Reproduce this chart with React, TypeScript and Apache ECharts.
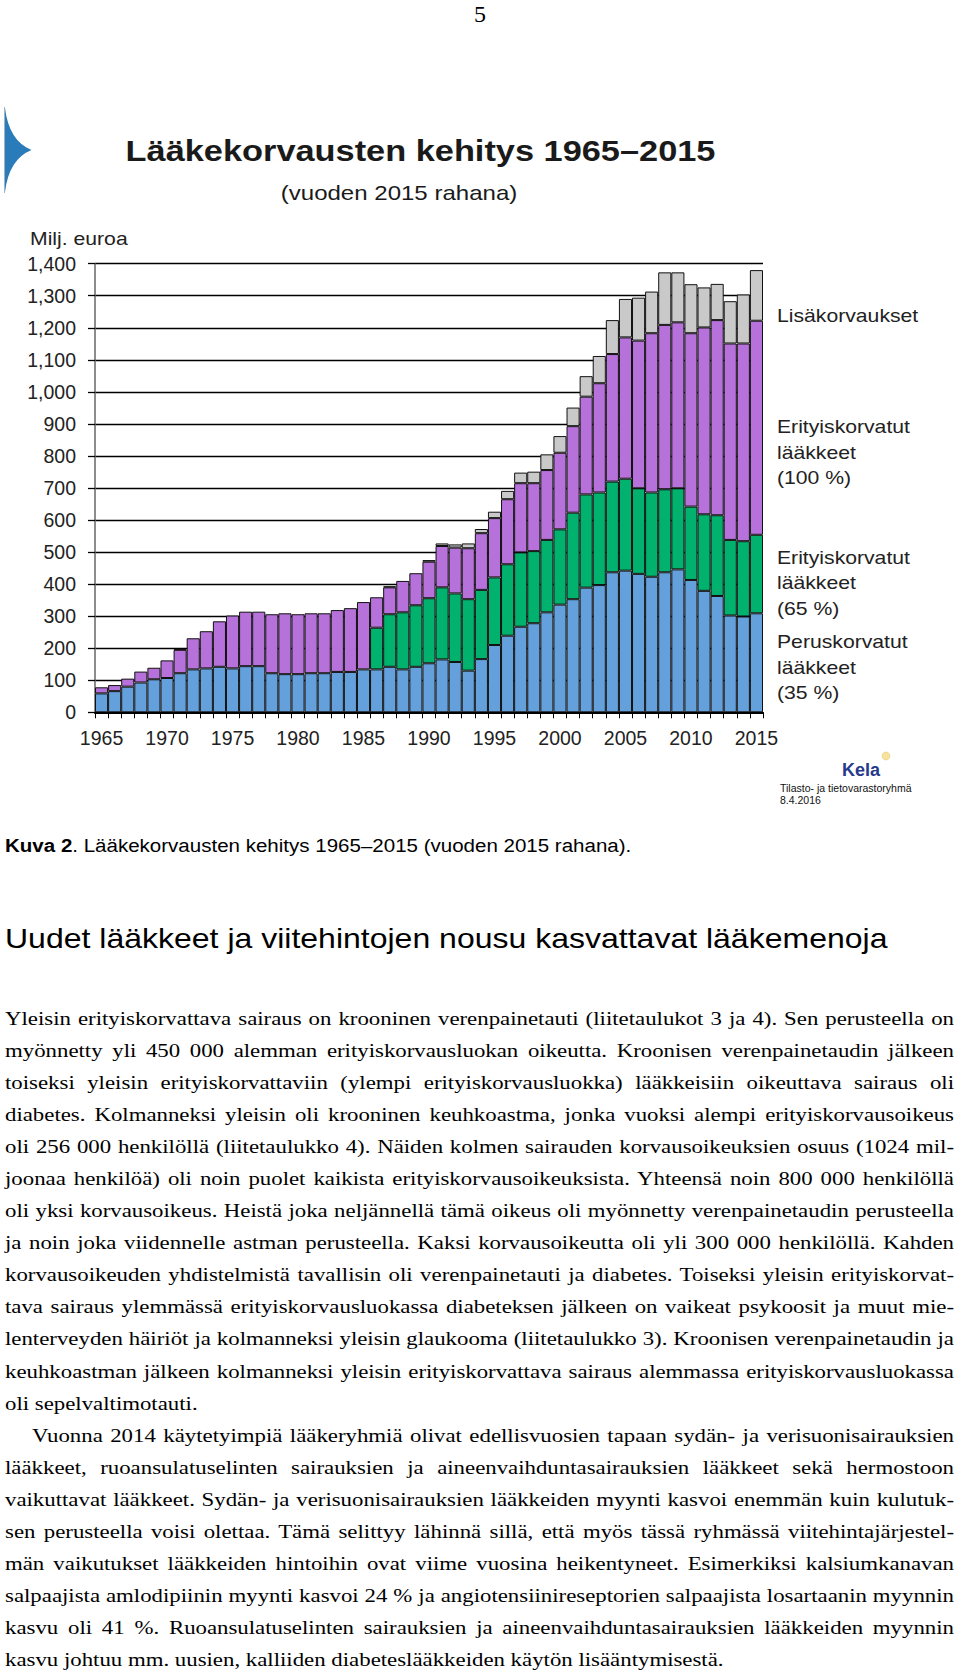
import React, { useEffect, useRef } from "react";
import * as echarts from "echarts";

const years = [
  "1965", "1966", "1967", "1968", "1969", "1970", "1971", "1972", "1973", "1974",
  "1975", "1976", "1977", "1978", "1979", "1980", "1981", "1982", "1983", "1984",
  "1985", "1986", "1987", "1988", "1989", "1990", "1991", "1992", "1993", "1994",
  "1995", "1996", "1997", "1998", "1999", "2000", "2001", "2002", "2003", "2004",
  "2005", "2006", "2007", "2008", "2009", "2010", "2011", "2012", "2013", "2014", "2015",
];

// Peruskorvatut lääkkeet (35 %)
const peruskorvatut = [
  59, 66, 80, 93, 103, 107, 122, 134, 137, 142,
  137, 144, 144, 122, 119, 119, 122, 122, 126, 126,
  134, 134, 142, 134, 142, 153, 165, 157, 130, 166,
  210, 239, 267, 278, 312, 336, 353, 389, 397, 437,
  442, 432, 423, 437, 446, 413, 379, 363, 302, 299, 309,
];

// Erityiskorvatut lääkkeet (65 %)
const erityis65 = [
  null, null, null, null, null, null, null, null, null, null,
  null, null, null, null, null, null, null, null, null, null,
  null, 130, 164, 178, 192, 203, 225, 214, 223, 216,
  211, 223, 232, 225, 226, 235, 270, 291, 289, 283,
  287, 267, 263, 259, 253, 229, 239, 252, 236, 235, 245,
];

// Erityiskorvatut lääkkeet (100 %)
const erityis100 = [
  19, 19, 25, 34, 36, 55, 73, 97, 116, 142,
  165, 170, 170, 184, 190, 187, 187, 187, 193, 199,
  210, 95, 84, 98, 100, 114, 129, 143, 159, 177,
  185, 203, 216, 212, 218, 239, 270, 305, 341, 398,
  441, 461, 497, 513, 518, 541, 583, 609, 613, 617, 668,
];

// Lisäkorvaukset
const lisakorvaukset = [
  null, null, null, null, null, null, 3, null, null, null,
  null, null, null, null, null, null, null, null, null, null,
  null, null, 3, null, null, 5, 8, 10, 15, 13,
  20, 26, 33, 36, 49, 52, 58, 64, 85, 106,
  120, 134, 130, 164, 156, 153, 125, 113, 132, 153, 158,
];

const yMin = 0;
const yMax = 1400;
const yStep = 100;

const seriesNames = [
  "Peruskorvatut lääkkeet (35 %)",
  "Erityiskorvatut lääkkeet (65 %)",
  "Erityiskorvatut lääkkeet (100 %)",
  "Lisäkorvaukset",
];
const seriesColors = ["#64a0dc", "#00b26e", "#b672da", "#c9c9c9"];

const bodyLines: { t: string; last?: boolean; indent?: boolean }[] = [
  { t: "Yleisin erityiskorvattava sairaus on krooninen verenpainetauti (liitetaulukot 3 ja 4). Sen perusteella on" },
  { t: "myönnetty yli 450 000 alemman erityiskorvausluokan oikeutta. Kroonisen verenpainetaudin jälkeen" },
  { t: "toiseksi yleisin erityiskorvattaviin (ylempi erityiskorvausluokka) lääkkeisiin oikeuttava sairaus oli" },
  { t: "diabetes. Kolmanneksi yleisin oli krooninen keuhkoastma, jonka vuoksi alempi erityiskorvausoikeus" },
  { t: "oli 256 000 henkilöllä (liitetaulukko 4). Näiden kolmen sairauden korvausoikeuksien osuus (1024 mil-" },
  { t: "joonaa henkilöä) oli noin puolet kaikista erityiskorvausoikeuksista. Yhteensä noin 800 000 henkilöllä" },
  { t: "oli yksi korvausoikeus. Heistä joka neljännellä tämä oikeus oli myönnetty verenpainetaudin perusteella" },
  { t: "ja noin joka viidennelle astman perusteella. Kaksi korvausoikeutta oli yli 300 000 henkilöllä. Kahden" },
  { t: "korvausoikeuden yhdistelmistä tavallisin oli verenpainetauti ja diabetes. Toiseksi yleisin erityiskorvat-" },
  { t: "tava sairaus ylemmässä erityiskorvausluokassa diabeteksen jälkeen on vaikeat psykoosit ja muut mie-" },
  { t: "lenterveyden häiriöt ja kolmanneksi yleisin glaukooma (liitetaulukko 3). Kroonisen verenpainetaudin ja" },
  { t: "keuhkoastman jälkeen kolmanneksi yleisin erityiskorvattava sairaus alemmassa erityiskorvausluokassa" },
  { t: "oli sepelvaltimotauti.", last: true },
  { t: "Vuonna 2014 käytetyimpiä lääkeryhmiä olivat edellisvuosien tapaan sydän- ja verisuonisairauksien", indent: true },
  { t: "lääkkeet, ruoansulatuselinten sairauksien ja aineenvaihduntasairauksien lääkkeet sekä hermostoon" },
  { t: "vaikuttavat lääkkeet. Sydän- ja verisuonisairauksien lääkkeiden myynti kasvoi enemmän kuin kulutuk-" },
  { t: "sen perusteella voisi olettaa. Tämä selittyy lähinnä sillä, että myös tässä ryhmässä viitehintajärjestel-" },
  { t: "män vaikutukset lääkkeiden hintoihin ovat viime vuosina heikentyneet. Esimerkiksi kalsiumkanavan" },
  { t: "salpaajista amlodipiinin myynti kasvoi 24 % ja angiotensiinireseptorien salpaajista losartaanin myynnin" },
  { t: "kasvu oli 41 %. Ruoansulatuselinten sairauksien ja aineenvaihduntasairauksien lääkkeiden myynnin" },
  { t: "kasvu johtuu mm. uusien, kalliiden diabeteslääkkeiden käytön lisääntymisestä.", last: true },
];

echarts.graphic.registerShape(
  "logo",
  echarts.graphic.extendPath("M5,108 Q9,141 31.5,150 Q9,159 5,192 Z", {})
);

const SANS = "'Liberation Sans', Arial, sans-serif";
const SERIF = "'Liberation Serif', 'Times New Roman', serif";
const SX = 1.145;

function txt(text: string, x: number, y: number, fontSize: number, opts: any = {}) {
  const align = opts.align || "left";
  return {
    type: "text",
    x,
    y,
    scaleX: opts.scaleX ?? SX,
    silent: true,
    style: {
      text,
      fontSize,
      fontFamily: opts.fontFamily || SANS,
      fontWeight: opts.fontWeight || "normal",
      fill: opts.fill || "#222",
      align,
      textAlign: align,
      verticalAlign: "middle",
      textVerticalAlign: "middle",
    },
  };
}

function Chart() {
  const ref = useRef<HTMLDivElement>(null);
  useEffect(() => {
    if (!ref.current) return;
    const chart = echarts.init(ref.current, null, { renderer: "svg" });
    const data = [peruskorvatut, erityis65, erityis100, lisakorvaukset];
    const legendX = 777;
    const option: any = {
      animation: false,
      backgroundColor: "#fff",
      grid: {
        left: 95,
        right: 197,
        top: 263.7,
        bottom: 107.7,
        containLabel: false,
        outerBoundsMode: "none",
      },
      xAxis: {
        type: "category",
        data: years,
        boundaryGap: true,
        z: 10,
        axisLine: { show: true, lineStyle: { color: "#000", width: 2 } },
        axisTick: { show: true, interval: 0, length: 6, lineStyle: { color: "#000", width: 1 } },
        axisLabel: {
          interval: 4,
          fontSize: 19.5,
          fontFamily: SANS,
          color: "#222",
          margin: 16,
        },
      },
      yAxis: {
        type: "value",
        min: yMin,
        max: yMax,
        interval: yStep,
        axisLine: { show: true, lineStyle: { color: "#666", width: 1.5 } },
        axisTick: { show: true, length: 7, lineStyle: { color: "#000", width: 1.3 } },
        splitLine: { show: true, lineStyle: { color: "#000", width: 1.3 } },
        axisLabel: {
          formatter: (v: number) => v.toLocaleString("en-US"),
          fontSize: 19.5,
          fontFamily: SANS,
          color: "#222",
          margin: 19,
        },
      },
      series: data.map((d, i) => ({
        name: seriesNames[i],
        type: "bar",
        stack: "total",
        data: d,
        barCategoryGap: "0%",
        itemStyle: { color: seriesColors[i], borderColor: "#111", borderWidth: 1 },
      })),
      graphic: [
        {
          type: "logo",
          x: 0,
          y: 0,
          silent: true,
          style: { fill: "#2a7bb9" },
        },
        {
          type: "line",
          silent: true,
          shape: { x1: 4.5, y1: 107, x2: 4.5, y2: 193 },
          style: { stroke: "#9fb3c4", lineWidth: 1 },
        },
        txt("Lääkekorvausten kehitys 1965–2015", 420.5, 151, 30, { align: "center", fontWeight: "bold", fill: "#1a1a1a" }),
        txt("(vuoden 2015 rahana)", 399, 193, 21, { align: "center", fill: "#1a1a1a" }),
        txt("Milj. euroa", 30, 238, 18.5),
        txt("Lisäkorvaukset", legendX, 315, 18.5),
        txt("Erityiskorvatut", legendX, 426, 18.5),
        txt("lääkkeet", legendX, 452, 18.5),
        txt("(100 %)", legendX, 477, 18.5),
        txt("Erityiskorvatut", legendX, 557, 18.5),
        txt("lääkkeet", legendX, 582, 18.5),
        txt("(65 %)", legendX, 608, 18.5),
        txt("Peruskorvatut", legendX, 641, 18.5),
        txt("lääkkeet", legendX, 667, 18.5),
        txt("(35 %)", legendX, 692, 18.5),
        txt("Kela", 842, 770, 18, { fontWeight: "bold", fill: "#26398c", scaleX: 1 }),
        {
          type: "circle",
          silent: true,
          shape: { cx: 886, cy: 756, r: 4 },
          style: { fill: "#f6e3a0", stroke: "#e8c870", lineWidth: 0.6 },
        },
        txt("Tilasto- ja tietovarastoryhmä", 780, 788, 10.5, { fill: "#111", scaleX: 1 }),
        txt("8.4.2016", 780, 800, 10.5, { fill: "#111", scaleX: 1 }),
      ],
    };
    chart.setOption(option);
    return () => chart.dispose();
  }, []);
  return (
    <div
      ref={ref}
      style={{ position: "absolute", left: 0, top: 0, width: 960, height: 820 }}
    />
  );
}

export default function App() {
  const bodyScale = 1.17;
  const bodyWidth = 949 / bodyScale;
  return (
    <div
      style={{
        position: "absolute",
        left: 0,
        top: 0,
        width: 960,
        height: 1677,
        background: "#fff",
        overflow: "hidden",
      }}
    >
      <Chart />
      <div
        style={{
          position: "absolute",
          left: 0,
          top: 0,
          width: 960,
          textAlign: "center",
          fontFamily: SERIF,
          fontSize: 24,
          lineHeight: "28px",
          color: "#000",
        }}
      >
        5
      </div>
      <div
        style={{
          position: "absolute",
          left: 5,
          top: 834,
          fontFamily: SANS,
          fontSize: 18,
          lineHeight: "24px",
          whiteSpace: "nowrap",
          color: "#000",
          transform: `scaleX(${1.14})`,
          transformOrigin: "0 0",
        }}
      >
        <b>Kuva 2</b>. Lääkekorvausten kehitys 1965–2015 (vuoden 2015 rahana).
      </div>
      <div
        style={{
          position: "absolute",
          left: 5,
          top: 919,
          fontFamily: SANS,
          fontSize: 28,
          lineHeight: "40px",
          whiteSpace: "nowrap",
          color: "#000",
          transform: `scaleX(${1.143})`,
          transformOrigin: "0 0",
        }}
      >
        Uudet lääkkeet ja viitehintojen nousu kasvattavat lääkemenoja
      </div>
      <div
        style={{
          position: "absolute",
          left: 5,
          top: 1003,
          width: bodyWidth,
          fontFamily: SERIF,
          fontSize: 19.5,
          lineHeight: "32.05px",
          color: "#000",
          transform: `scaleX(${bodyScale})`,
          transformOrigin: "0 0",
        }}
      >
        {bodyLines.map((l, i) => (
          <div
            key={i}
            style={{
              whiteSpace: "nowrap",
              textAlign: l.last ? "left" : "justify",
              textAlignLast: l.last ? "left" : "justify",
              paddingLeft: l.indent ? 23 : 0,
              height: "32.05px",
            }}
          >
            {l.t}
          </div>
        ))}
      </div>
    </div>
  );
}
